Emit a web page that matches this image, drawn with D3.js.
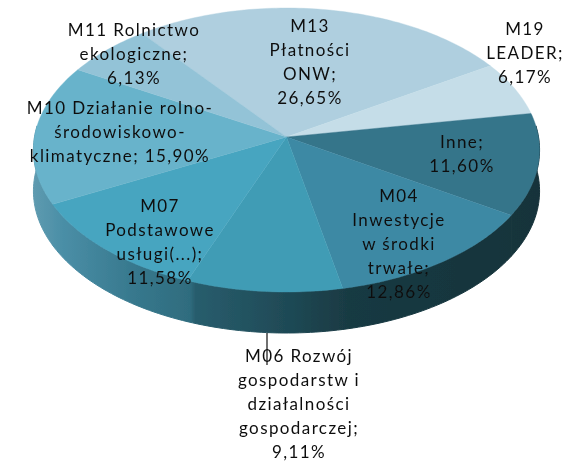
<!DOCTYPE html>
<html><head><meta charset="utf-8">
<script src="https://cdn.jsdelivr.net/npm/d3@7/dist/d3.min.js"></script>
<style>html,body{margin:0;padding:0;background:#fff}svg{display:block}</style>
</head><body><div id="c"></div>
<script>
const categories=["M13 Płatności ONW","M19 LEADER","Inne","M04 Inwestycje w środki trwałe","M06 Rozwój gospodarstw i działalności gospodarczej","M07 Podstawowe usługi(...)","M10 Działanie rolno-środowiskowo-klimatyczne","M11 Rolnictwo ekologiczne"];
const values=[26.65,6.17,11.60,12.86,9.11,11.58,15.90,6.13];
const topColors=["#afcfdf","#c5dde8","#36748a","#3c89a4","#3f9cb5","#47a5c0","#68b3cb","#93c3d7"];
const wallStops=[[0,"#5f9bb0"],[0.06,"#4a8ea6"],[0.2,"#37788d"],[0.31,"#2f6c7e"],[0.32,"#285d6d"],[0.5,"#1f4a56"],[0.62,"#193a43"],[1,"#17333a"]];
const labelLines=[
 ["M13","Płatności","ONW;","26,65%"],
 ["M19","LEADER;","6,17%"],
 ["Inne;","11,60%"],
 ["M04","Inwestycje","w środki","trwałe;","12,86%"],
 ["M06 Rozwój","gospodarstw i","działalności","gospodarczej;","9,11%"],
 ["M07","Podstawowe","usługi(...);","11,58%"],
 ["M10 Działanie rolno-","środowiskowo-","klimatyczne; 15,90%"],
 ["M11 Rolnictwo","ekologiczne;","6,13%"]];
const labelCenters=[[310,26],[525,29],[462,142],[399,196],[299,356],[160,206],[120,108],[134,30]];

const W=565,H=461,cx=286.5,cy=137,rx=252,ry=140.8,k=0.0916,depth=41,lh=24;
const svg=d3.select("#c").append("svg").attr("width",W).attr("height",H);
const defs=svg.append("defs");
defs.append("filter").attr("id","soft").attr("x","-5%").attr("y","-5%").attr("width","110%").attr("height","110%")
  .append("feGaussianBlur").attr("stdDeviation",0.4);
const wg=defs.append("linearGradient").attr("id","wall").attr("gradientUnits","userSpaceOnUse")
  .attr("x1",33).attr("x2",540).attr("y1",0).attr("y2",0);
wallStops.forEach(s=>wg.append("stop").attr("offset",s[0]).attr("stop-color",s[1]));
function proj(a,r=1,dz=0){const u=r*Math.sin(a),v=-r*Math.cos(a),d=1-k*v;return [cx+rx*u/d,cy+ry*v/d+dz];}
const pie=d3.pie().sort(null).startAngle(-37.94*Math.PI/180).endAngle((360-37.94)*Math.PI/180);
const arcs=pie(values);
const line=d3.line();
function samples(a0,a1){const n=Math.max(2,Math.ceil((a1-a0)/0.02));return d3.range(n+1).map(i=>a0+(a1-a0)*i/n);}
const frontMin=Math.PI/2-0.08,frontMax=3*Math.PI/2+0.08;
const root=svg.append("g").attr("filter","url(#soft)");
const walls=root.append("g");
arcs.forEach((s,i)=>{
  const a0=Math.max(s.startAngle,frontMin),a1=Math.min(s.endAngle,frontMax);
  if(a1<=a0)return;
  const top=samples(a0,a1).map(a=>proj(a));
  const bot=samples(a0,a1).reverse().map(a=>proj(a,1,depth));
  walls.append("path").attr("d",line(top.concat(bot))+"Z").attr("fill","url(#wall)").attr("stroke","url(#wall)").attr("stroke-width",1);
});
root.append("g").selectAll("path").data(arcs).join("path")
  .attr("d",s=>line([[cx,cy]].concat(samples(s.startAngle,s.endAngle).map(a=>proj(a))))+"Z")
  .attr("fill",(s,i)=>topColors[i]).attr("stroke",(s,i)=>topColors[i]).attr("stroke-width",0.4);
svg.append("line").attr("x1",267).attr("x2",267).attr("y1",333).attr("y2",365).attr("stroke","#111").attr("stroke-width",1.2);
const t=svg.append("g").attr("filter","url(#soft)").attr("font-family","Lato, 'Open Sans', sans-serif").attr("font-size",17).attr("fill","#111").attr("text-anchor","middle").attr("letter-spacing",1.4);
labelLines.forEach((ls,i)=>{
  const [x,y]=labelCenters[i];
  ls.forEach((l,j)=>t.append("text").attr("x",x).attr("y",y+j*lh+6).text(l));
});
</script></body></html>
